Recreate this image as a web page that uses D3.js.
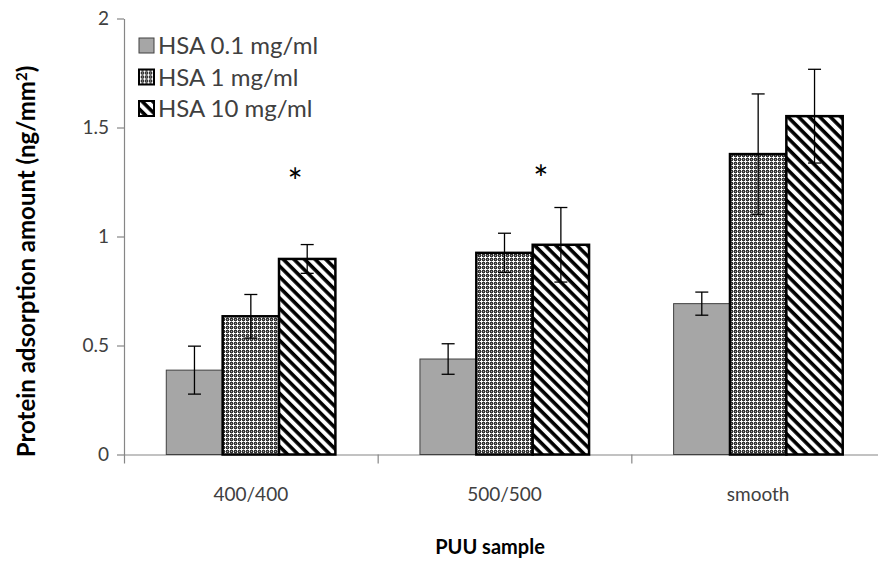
<!DOCTYPE html>
<html>
<head>
<meta charset="utf-8">
<script src="https://cdn.jsdelivr.net/npm/d3@7"></script>
<style>
  body { margin: 0; background: #fff; }
  svg { display: block; }
</style>
</head>
<body>
<div id="chart"></div>
<script>
// data
const categories = ['400/400', '500/500', 'smooth'];
const seriesNames = ['HSA 0.1 mg/ml', 'HSA 1 mg/ml', 'HSA 10 mg/ml'];
const hsa01 = [0.387, 0.438, 0.692];
const hsa01Err = [0.11, 0.07, 0.053];
const hsa1 = [0.634, 0.925, 1.378];
const hsa1Err = [0.10, 0.09, 0.276];
const hsa10 = [0.897, 0.962, 1.552];
const hsa10Err = [0.066, 0.171, 0.215];
const yTicks = [0, 0.5, 1, 1.5, 2];
// significance marks: category, series, height in data units
const stars = [
  {cat: '400/400', series: 'HSA 10 mg/ml', value: 1.19, dx: -12},
  {cat: '500/500', series: 'HSA 10 mg/ml', value: 1.205, dx: -20}
];

const width = 878, height = 572;
const margin = {top: 18.5, left: 124, bottom: 118};
const plotRight = 885; // plot runs a little past the cropped edge
const font = 'Lato, "Open Sans", sans-serif';

const svg = d3.select('#chart').append('svg')
  .attr('width', width)
  .attr('height', height);

const defs = svg.append('defs');

// dotted grid fill
const dot = defs.append('pattern')
  .attr('id', 'dotted')
  .attr('patternUnits', 'userSpaceOnUse')
  .attr('width', 4).attr('height', 4);
dot.append('rect').attr('width', 4).attr('height', 4).attr('fill', '#333');
dot.append('rect').attr('x', 1).attr('y', 0).attr('width', 1).attr('height', 3).attr('fill', '#fff');
dot.append('rect').attr('x', 0).attr('y', 1).attr('width', 3).attr('height', 1).attr('fill', '#fff');
dot.append('rect').attr('x', 3).attr('y', 3).attr('width', 1).attr('height', 1).attr('fill', '#999');
dot.append('rect').attr('x', 3).attr('y', 1).attr('width', 1).attr('height', 1).attr('fill', '#999');
dot.append('rect').attr('x', 1).attr('y', 3).attr('width', 1).attr('height', 1).attr('fill', '#999');

// wide downward diagonal
const hatch = defs.append('pattern')
  .attr('id', 'hatch')
  .attr('patternUnits', 'userSpaceOnUse')
  .attr('width', 7.5).attr('height', 7.5)
  .attr('patternTransform', 'rotate(-45)');
hatch.append('rect').attr('width', 7.5).attr('height', 7.5).attr('fill', '#fff');
hatch.append('line')
  .attr('x1', 2).attr('y1', 0).attr('x2', 2).attr('y2', 7.5)
  .attr('stroke', '#000').attr('stroke-width', 3.6);

const fills = ['#a6a6a6', 'url(#dotted)', 'url(#hatch)'];
const strokes = ['#404040', '#000', '#000'];
const strokeW = [1, 2.5, 2.5];

const y = d3.scaleLinear()
  .domain([0, 2])
  .range([height - margin.bottom + 0.5, margin.top]);

const x = d3.scaleBand()
  .domain(categories)
  .range([margin.left, plotRight])
  .paddingInner(1 / 3)
  .paddingOuter(1 / 6);

const xs = d3.scaleBand()
  .domain(seriesNames)
  .range([0, x.bandwidth()]);

const table = seriesNames.map((name, i) => ({
  name: name,
  idx: i,
  values: categories.map((c, j) => ({
    cat: c,
    value: [hsa01, hsa1, hsa10][i][j],
    err: [hsa01Err, hsa1Err, hsa10Err][i][j]
  }))
}));

// y axis
const yAxis = svg.append('g')
  .attr('transform', `translate(${margin.left},0)`)
  .call(d3.axisLeft(y).tickValues(yTicks).tickSize(7).tickSizeOuter(0).tickPadding(8)
    .tickFormat(d3.format('')));
yAxis.select('.domain').attr('stroke', '#868686').attr('stroke-width', 1.2);
yAxis.selectAll('.tick line').attr('stroke', '#868686').attr('stroke-width', 1.2);
yAxis.selectAll('.tick text')
  .attr('fill', '#404040')
  .style('font-family', font)
  .style('font-size', '19px');

// x axis: ticks on category boundaries
const xEdges = d3.scaleLinear().domain([0, categories.length]).range([margin.left, plotRight]);
const xAxis = svg.append('g')
  .attr('transform', `translate(0,${y(0)})`)
  .call(d3.axisBottom(xEdges).tickValues(d3.range(categories.length + 1)).tickSize(9)
    .tickSizeOuter(0).tickFormat(''));
xAxis.select('.domain').attr('stroke', '#868686').attr('stroke-width', 1.2);
xAxis.selectAll('.tick line').attr('stroke', '#868686').attr('stroke-width', 1.2);

svg.append('g').selectAll('text')
  .data(categories)
  .join('text')
  .attr('x', d => x(d) + x.bandwidth() / 2)
  .attr('y', y(0) + 46)
  .attr('text-anchor', 'middle')
  .attr('fill', '#404040')
  .style('font-family', font)
  .style('font-size', '19px')
  .text(d => d);

// bars
const groups = svg.append('g').selectAll('g')
  .data(table)
  .join('g');

groups.selectAll('rect')
  .data(s => s.values.map(v => Object.assign({s: s}, v)))
  .join('rect')
  .attr('x', d => x(d.cat) + xs(d.s.name))
  .attr('y', d => y(d.value))
  .attr('width', xs.bandwidth())
  .attr('height', d => y(0) - y(d.value))
  .attr('fill', d => fills[d.s.idx])
  .attr('stroke', d => strokes[d.s.idx])
  .attr('stroke-width', d => strokeW[d.s.idx]);

// error bars
const capW = 13;
const errs = svg.append('g')
  .attr('stroke', '#000')
  .attr('stroke-width', 1.3);
table.forEach(s => {
  s.values.forEach(v => {
    const cx = x(v.cat) + xs(s.name) + xs.bandwidth() / 2;
    errs.append('line')
      .attr('x1', cx).attr('x2', cx)
      .attr('y1', y(v.value + v.err)).attr('y2', y(v.value - v.err));
    [v.value + v.err, v.value - v.err].forEach(e => {
      errs.append('line')
        .attr('x1', cx - capW / 2).attr('x2', cx + capW / 2)
        .attr('y1', y(e)).attr('y2', y(e));
    });
  });
});

// asterisks
svg.append('g').selectAll('text')
  .data(stars)
  .join('text')
  .attr('x', d => x(d.cat) + xs(d.series) + xs.bandwidth() / 2 + d.dx)
  .attr('y', d => y(d.value))
  .attr('text-anchor', 'middle')
  .attr('fill', '#000')
  .style('font-family', font)
  .style('font-size', '36px')
  .text('*');

// legend
const legend = svg.append('g').attr('transform', 'translate(139,38)');
const row = legend.selectAll('g')
  .data(seriesNames)
  .join('g')
  .attr('transform', (d, i) => `translate(0,${i * 31.5})`);
row.append('rect')
  .attr('width', 15).attr('height', 15)
  .attr('fill', (d, i) => fills[i])
  .attr('stroke', (d, i) => strokes[i])
  .attr('stroke-width', (d, i) => i === 0 ? 1 : 2);
row.append('text')
  .attr('x', 19)
  .attr('y', 8)
  .attr('dy', '0.35em')
  .attr('fill', '#404040')
  .style('font-family', font)
  .style('font-size', '24px')
  .text(d => d);

// axis titles
svg.append('text')
  .attr('transform', `translate(35,${(y(0) + y(2)) / 2 + 25}) rotate(-90)`)
  .attr('text-anchor', 'middle')
  .style('font-family', font)
  .style('font-size', '24px')
  .style('font-weight', 'bold')
  .attr('fill', '#000')
  .html('Protein adsorption amount (ng/mm<tspan dy="-8" font-size="15px">2</tspan><tspan dy="8">)</tspan>');

svg.append('text')
  .attr('x', 490)
  .attr('y', 554)
  .attr('text-anchor', 'middle')
  .style('font-family', font)
  .style('font-size', '20px')
  .style('font-weight', 'bold')
  .attr('fill', '#000')
  .text('PUU sample');
</script>
</body>
</html>
